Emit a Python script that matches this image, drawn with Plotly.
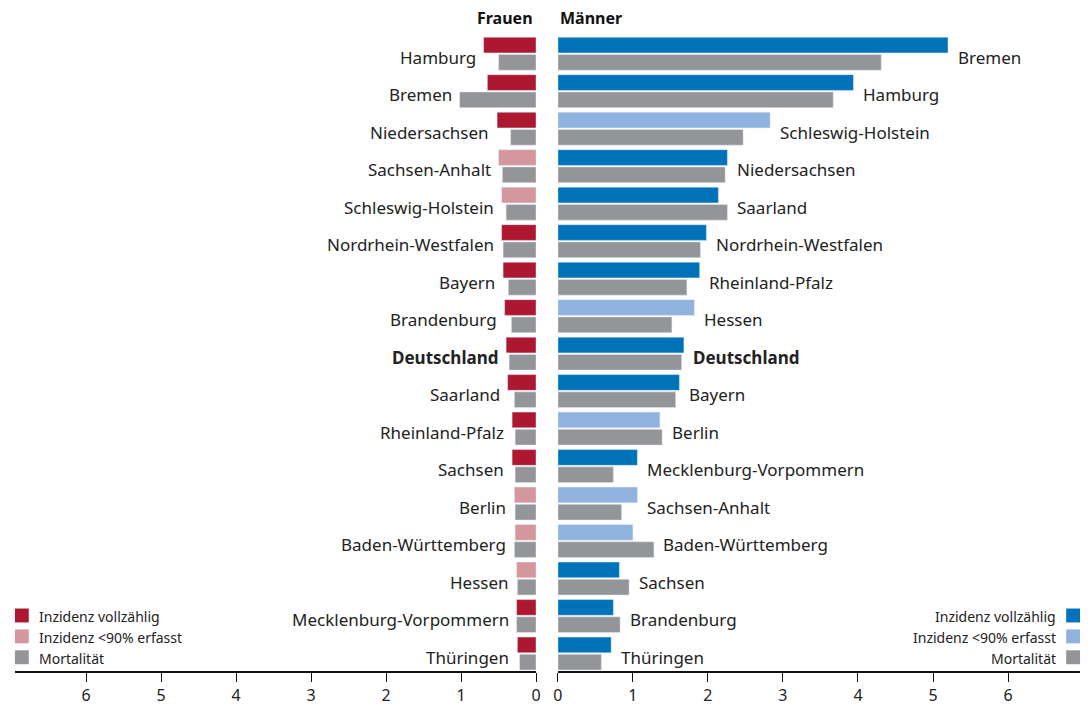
import plotly.graph_objects as go

f_names = ["Hamburg","Bremen","Niedersachsen","Sachsen-Anhalt","Schleswig-Holstein","Nordrhein-Westfalen","Bayern","Brandenburg","Deutschland","Saarland","Rheinland-Pfalz","Sachsen","Berlin","Baden-Württemberg","Hessen","Mecklenburg-Vorpommern","Thüringen"]
f_inc = [0.70,0.65,0.52,0.50,0.46,0.46,0.44,0.42,0.40,0.38,0.32,0.32,0.29,0.28,0.26,0.26,0.25]
f_mort = [0.50,1.02,0.34,0.45,0.40,0.44,0.37,0.33,0.36,0.29,0.28,0.28,0.28,0.29,0.25,0.26,0.22]
f_partial = [False,False,False,True,True,False,False,False,False,False,False,False,True,True,True,False,False]

m_names = ["Bremen","Hamburg","Schleswig-Holstein","Niedersachsen","Saarland","Nordrhein-Westfalen","Rheinland-Pfalz","Hessen","Deutschland","Bayern","Berlin","Mecklenburg-Vorpommern","Sachsen-Anhalt","Baden-Württemberg","Sachsen","Brandenburg","Thüringen"]
m_inc = [5.20,3.94,2.83,2.26,2.14,1.98,1.89,1.82,1.68,1.62,1.36,1.06,1.06,1.00,0.82,0.74,0.71]
m_mort = [4.31,3.67,2.47,2.23,2.26,1.90,1.72,1.52,1.65,1.57,1.39,0.74,0.85,1.28,0.95,0.83,0.58]
m_partial = [False,False,True,False,False,False,False,True,False,False,True,False,True,True,False,False,False]

RED, LRED, GRAY, BLUE, LBLUE = "#AE1730", "#D4979D", "#939598", "#0072BA", "#8FB2DF"
FONT = "Noto Sans"
rows = list(range(len(f_names)))
off, w = 0.23, 0.42

fig = go.Figure()
fig.add_trace(go.Bar(x=f_inc, y=[r-off for r in rows], orientation="h", width=w,
                     marker_color=[LRED if p else RED for p in f_partial], xaxis="x", yaxis="y"))
fig.add_trace(go.Bar(x=f_mort, y=[r+off for r in rows], orientation="h", width=w,
                     marker_color=GRAY, xaxis="x", yaxis="y"))
fig.add_trace(go.Bar(x=m_inc, y=[r-off for r in rows], orientation="h", width=w,
                     marker_color=[LBLUE if p else BLUE for p in m_partial], xaxis="x2", yaxis="y"))
fig.add_trace(go.Bar(x=m_mort, y=[r+off for r in rows], orientation="h", width=w,
                     marker_color=GRAY, xaxis="x2", yaxis="y"))

LS = 17
ann = []
for r, n, a, b in zip(rows, f_names, f_inc, f_mort):
    t = f"<b>{n}</b>" if n == "Deutschland" else n
    ann.append(dict(x=max(a, b)+0.08, y=r+0.1, xref="x", yref="y", text=t, showarrow=False,
                    xanchor="right", yanchor="middle", font=dict(size=LS, color="#222", family=FONT)))
for r, n, a, b in zip(rows, m_names, m_inc, m_mort):
    t = f"<b>{n}</b>" if n == "Deutschland" else n
    ann.append(dict(x=max(a, b)+0.1, y=r+0.1, xref="x2", yref="y", text=t, showarrow=False,
                    xanchor="left", yanchor="middle", font=dict(size=LS, color="#222", family=FONT)))
ann.append(dict(x=535/1090, y=1-18/706, xref="paper", yref="paper", text="<b>Frauen</b>", showarrow=False,
                xanchor="right", yanchor="middle", font=dict(size=16, color="#111", family=FONT)))
ann.append(dict(x=558/1090, y=1-18/706, xref="paper", yref="paper", text="<b>Männer</b>", showarrow=False,
                xanchor="left", yanchor="middle", font=dict(size=16, color="#111", family=FONT)))

shapes = []
leg = [("Inzidenz vollzählig", RED, BLUE), ("Inzidenz <90% erfasst", LRED, LBLUE), ("Mortalität", GRAY, GRAY)]
for i, (txt, cl, cr) in enumerate(leg):
    yc = 619 + i*21
    shapes.append(dict(type="rect", xref="paper", yref="paper", x0=10/1090, x1=24/1090,
                       y0=1-(yc+7)/706, y1=1-(yc-7)/706, fillcolor=cl, line_width=0))
    shapes.append(dict(type="rect", xref="paper", yref="paper", x0=1071/1090, x1=1085/1090,
                       y0=1-(yc+7)/706, y1=1-(yc-7)/706, fillcolor=cr, line_width=0))
    ann.append(dict(x=32/1090, y=1-(yc+1)/706, xref="paper", yref="paper", text=txt, showarrow=False,
                    xanchor="left", yanchor="middle", font=dict(size=14, color="#222", family=FONT)))
    ann.append(dict(x=1063/1090, y=1-(yc+1)/706, xref="paper", yref="paper", text=txt, showarrow=False,
                    xanchor="right", yanchor="middle", font=dict(size=14, color="#222", family=FONT)))

axcommon = dict(tickvals=[0,1,2,3,4,5,6], ticks="outside", ticklen=9, tickwidth=1.2, tickcolor="#111",
                showline=True, linecolor="#111", linewidth=1.5, showgrid=False, zeroline=False,
                tickfont=dict(size=16, color="#222", family=FONT), fixedrange=True)
fig.update_layout(
    width=1090, height=706, margin=dict(l=0, r=0, t=0, b=0),
    paper_bgcolor="white", plot_bgcolor="white", showlegend=False, barmode="overlay",
    xaxis=dict(domain=[10/1090, 536/1090], range=[6.95, 0], anchor="y", **axcommon),
    xaxis2=dict(domain=[558/1090, 1085/1090], range=[0, 6.96], anchor="y", **axcommon),
    yaxis=dict(domain=[1-675/706, 1-27/706], range=[16.47, -0.716], visible=False),
    annotations=ann, shapes=shapes,
)
fig.write_html("out.html", config={"displayModeBar": False},
               post_script="document.body.style.margin='0';document.body.style.overflow='hidden';")
